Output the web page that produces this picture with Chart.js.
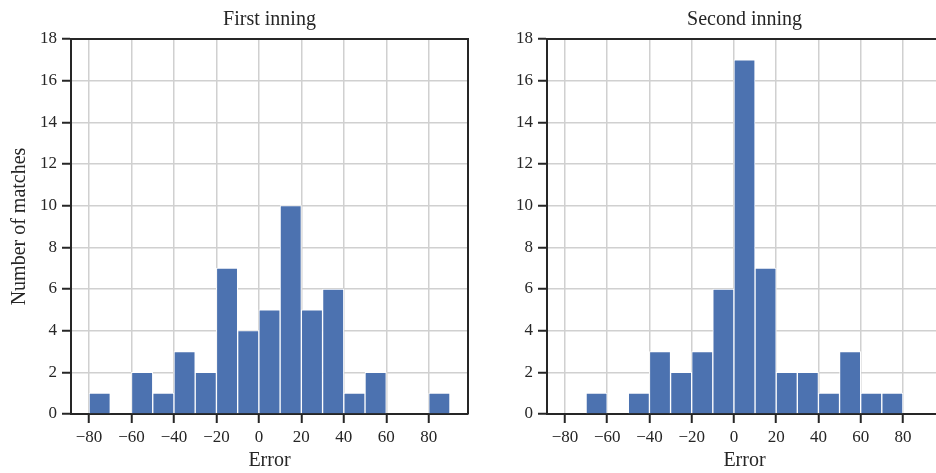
<!DOCTYPE html>
<html>
<head>
<meta charset="utf-8">
<script src="https://cdn.jsdelivr.net/npm/chart.js@4.4.1/dist/chart.umd.min.js"></script>
<style>
    html, body { margin: 0; padding: 0; background: #fff; overflow: hidden; }
    body { width: 936px; height: 473px; position: relative; }
    .box { position: absolute; top: 0; height: 473px; }
    #left { left: 0; width: 480px; }
    #right { left: 480px; width: 490px; }
</style>
</head>
<body>
<div class="box" id="left"><canvas id="chartFirst"></canvas></div>
<div class="box" id="right"><canvas id="chartSecond"></canvas></div>
<script>
"use strict";

// histogram bins (width 10)
const firstBinStarts = [-80, -70, -60, -50, -40, -30, -20, -10, 0, 10, 20, 30, 40, 50, 60, 70, 80];
const firstCounts = [1, 0, 2, 1, 3, 2, 7, 4, 5, 10, 5, 6, 1, 2, 0, 0, 1];

const secondBinStarts = [-70, -60, -50, -40, -30, -20, -10, 0, 10, 20, 30, 40, 50, 60, 70];
const secondCounts = [1, 0, 1, 3, 2, 3, 6, 17, 7, 2, 2, 1, 3, 1, 1];

const binWidth = 10;
const xTicks = [-80, -60, -40, -20, 0, 20, 40, 60, 80];
const yTicks = [0, 2, 4, 6, 8, 10, 12, 14, 16, 18];

const barColor = "#4c72b0";
const darkColor = "#262626";
const gridColor = "#d0d0d0";
const fontFamily = "'Liberation Serif', 'DejaVu Serif', serif";

Chart.defaults.font.family = fontFamily;
Chart.defaults.color = darkColor;

// draws the top and right spines
const frameBox = {
    id: "frameBox",
    afterDraw(chart) {
        const { ctx, chartArea } = chart;
        ctx.save();
        ctx.strokeStyle = darkColor;
        ctx.lineWidth = 2;
        ctx.beginPath();
        ctx.moveTo(chartArea.left, chartArea.top);
        ctx.lineTo(chartArea.right, chartArea.top);
        ctx.lineTo(chartArea.right, chartArea.bottom);
        ctx.stroke();
        ctx.restore();
    }
};

const minusFmt = v => String(v).replace("-", "\u2212");

const makeHist = (canvasId, title, starts, counts, opts) => {
    const points = starts.map((s, i) => ({ x: s + binWidth / 2, y: counts[i] }));

    return new Chart(document.getElementById(canvasId), {
        type: "bar",
        data: {
            datasets: [{
                data: points,
                backgroundColor: barColor,
                borderColor: "#ffffff",
                borderWidth: 1,
                barPercentage: 1,
                categoryPercentage: 1
            }]
        },
        options: {
            responsive: true,
            maintainAspectRatio: false,
            animation: false,
            layout: { padding: opts.padding },
            plugins: {
                legend: { display: false },
                tooltip: { enabled: false },
                title: {
                    display: true,
                    text: title,
                    fullSize: false,
                    color: darkColor,
                    font: { size: 20, weight: "normal" },
                    padding: { top: 8, bottom: 7 }
                }
            },
            scales: {
                x: {
                    type: "linear",
                    min: -88.5,
                    max: 98.5,
                    offset: false,
                    afterBuildTicks: scale => { scale.ticks = xTicks.map(v => ({ value: v })); },
                    afterFit: scale => { scale.height = 59; },
                    ticks: {
                        color: darkColor,
                        font: { size: 17 },
                        padding: 4,
                        maxRotation: 0,
                        autoSkip: false,
                        callback: v => minusFmt(v)
                    },
                    grid: {
                        offset: false,
                        color: gridColor,
                        lineWidth: 1.5,
                        tickColor: darkColor,
                        tickWidth: 2,
                        tickLength: 9
                    },
                    border: { color: darkColor, width: 2 },
                    title: {
                        display: true,
                        text: "Error",
                        color: darkColor,
                        font: { size: 20 },
                        padding: { top: 0, bottom: 0 }
                    }
                },
                y: {
                    min: 0,
                    max: 18,
                    afterBuildTicks: scale => { scale.ticks = yTicks.map(v => ({ value: v })); },
                    afterFit: scale => { scale.width = opts.yWidth; },
                    ticks: {
                        color: darkColor,
                        font: { size: 17 },
                        padding: 5
                    },
                    grid: {
                        color: gridColor,
                        lineWidth: 1.5,
                        tickColor: darkColor,
                        tickWidth: 2,
                        tickLength: 9
                    },
                    border: { color: darkColor, width: 2 },
                    title: {
                        display: opts.yTitle,
                        text: "Number of matches",
                        color: darkColor,
                        font: { size: 20 },
                        padding: { top: 0, bottom: 0 }
                    }
                }
            }
        },
        plugins: [frameBox]
    });
};

document.addEventListener("DOMContentLoaded", () => {
    makeHist("chartFirst", "First inning", firstBinStarts, firstCounts, {
        padding: { left: 8, right: 12, top: 0, bottom: 0 },
        yWidth: 63,
        yTitle: true
    });
    // the right panel runs past the edge of the page, as in the reference
    makeHist("chartSecond", "Second inning", secondBinStarts, secondCounts, {
        padding: { left: 0, right: 28, top: 0, bottom: 0 },
        yWidth: 67,
        yTitle: false
    });
});
</script>
</body>
</html>
